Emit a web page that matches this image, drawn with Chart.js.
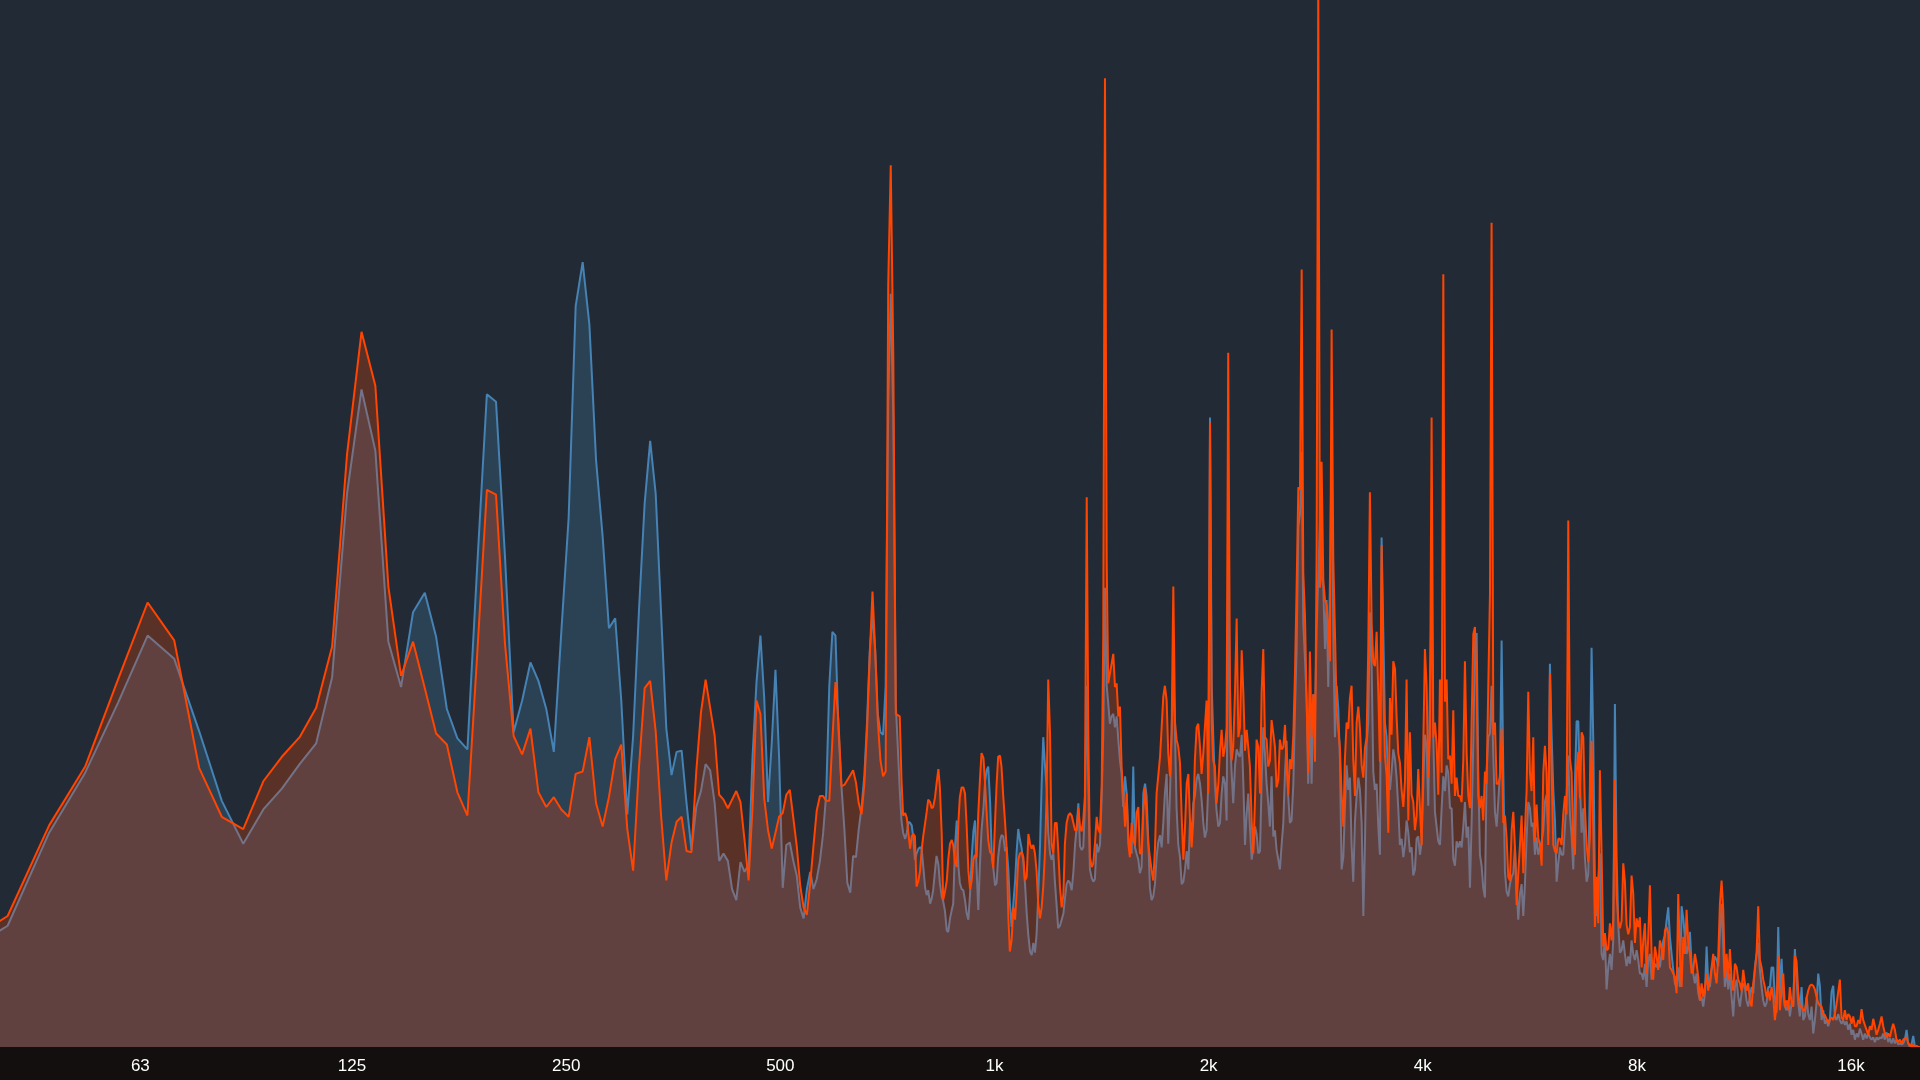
<!DOCTYPE html>
<html><head><meta charset="utf-8">
<script src="https://cdn.jsdelivr.net/npm/chart.js@4.4.1/dist/chart.umd.min.js"></script>
<style>html,body{margin:0;padding:0;background:#130f0f;overflow:hidden}#wrap{width:1920px;height:1080px}</style>
</head><body><div id="wrap"><canvas id="c" width="1920" height="1080"></canvas></div>
<script>
// axis ticks
const tickHz = [63, 125, 250, 500, 1000, 2000, 4000, 8000, 16000];
const tickText = ['63', '125', '250', '500', '1k', '2k', '4k', '8k', '16k'];

// low band: FFT bin centres (Hz)
const lowHz = [
35.2,41.0,46.9,52.7,58.6,64.5,70.3,76.2,82.0,87.9,
93.8,99.6,105.5,111.3,117.2,123.0,128.9,134.8,140.6,146.5,
152.3,158.2,164.1,169.9,175.8,181.6,187.5,193.4,199.2,205.1,
210.9,216.8,222.7,228.5,234.4,240.2,246.1,252.0,257.8,263.7,
269.5,275.4,281.3,287.1,293.0,298.8,304.7,310.5,316.4,322.3,
328.1,334.0,339.8,345.7,351.6,357.4,363.3,369.1,375.0,380.9,
386.7,392.6,398.4,404.3,410.2,416.0,421.9,427.7,433.6,439.5,
445.3,451.2,457.0,462.9,468.8,474.6,480.5,486.3,492.2,498.0,
503.9,509.8,515.6,521.5,527.3,533.2,539.1,544.9,550.8,556.6,
562.5,568.4,574.2,580.1,585.9,591.8,597.7,603.5,609.4,615.2,
621.1,627.0,632.8,638.7,644.5,650.4,656.3,662.1,668.0,673.8,
679.7,685.5,691.4,697.3,703.1,709.0,714.8,720.7,726.6];

// low band levels (dB)
const blueLow = [
-78.0,-75.6,-68.0,-63.1,-57.4,-51.9,-53.8,-59.7,-65.4,-68.9,
-66.1,-64.4,-62.4,-60.7,-55.3,-40.3,-31.8,-36.8,-52.4,-56.1,
-50.0,-48.4,-52.0,-57.9,-60.3,-61.2,-46.1,-32.2,-32.8,-45.5,-59.8,
-57.2,-54.1,-55.6,-57.9,-61.4,-51.6,-42.3,-25.0,-21.4,-26.5,
-37.6,-43.8,-51.3,-50.5,-57.2,-66.5,-60.1,-49.9,-41.1,-36.0,
-40.3,-49.9,-59.5,-63.3,-61.4,-61.3,-65.6,-69.4,-65.9,-64.6,
-62.4,-62.9,-65.6,-70.3,-69.7,-70.3,-72.6,-73.5,-70.4,-71.2,
-70.6,-61.8,-55.7,-51.9,-57.0,-65.5,-60.7,-54.7,-61.8,-72.5,
-69.0,-68.8,-70.3,-71.5,-74.1,-75.0,-72.6,-71.2,-72.6,-71.8,
-70.3,-68.1,-64.8,-56.0,-51.6,-51.9,-59.5,-64.2,-67.7,-72.1,
-72.9,-69.9,-70.0,-67.7,-65.9,-63.3,-58.9,-53.1,-50.2,-53.1,
-58.3,-59.8,-60.0,-56.0,-33.0,-24.0,-34.0,-57.5];
const orangeLow = [
-77.3,-74.8,-67.4,-62.6,-55.5,-49.2,-52.3,-62.7,-66.7,-67.7,
-63.8,-61.8,-60.2,-57.8,-52.8,-37.1,-27.1,-31.5,-47.9,-55.2,
-52.4,-56.2,-59.9,-60.8,-64.7,-66.6,-53.3,-40.0,-40.4,-52.6,-60.1,
-61.6,-59.5,-64.7,-65.9,-65.1,-66.1,-66.7,-63.2,-63.0,-60.2,
-65.6,-67.5,-65.1,-62.0,-60.8,-67.7,-71.1,-62.7,-56.2,-55.6,
-59.7,-66.5,-71.9,-68.8,-67.1,-66.7,-69.5,-69.6,-63.0,-58.2,
-55.5,-57.8,-60.1,-64.9,-65.3,-66.0,-65.3,-64.6,-65.5,-68.6,
-71.9,-65.9,-57.2,-58.3,-65.2,-67.8,-69.3,-68.0,-66.7,-66.4,
-64.9,-64.5,-66.8,-69.1,-72.3,-74.1,-74.7,-72.1,-69.1,-66.2,
-65.0,-65.0,-65.4,-65.4,-60.4,-55.7,-58.9,-64.2,-64.1,-63.7,
-63.3,-62.9,-63.9,-65.6,-66.5,-64.0,-59.5,-53.4,-48.3,-53.1,
-58.9,-62.1,-63.4,-63.0,-23.2,-13.5,-29.0,-58.3];

// high band sample frequencies (Hz)
const highHz = [
736,740,744,749,753,757,761,765,769,773,
777,782,786,790,794,799,803,807,812,816,
820,825,829,834,838,843,847,852,857,861,
866,871,875,880,885,890,894,899,904,909,
914,919,924,929,934,939,944,949,954,959,
965,970,975,980,986,991,996,1002,1007,1012,
1018,1023,1029,1035,1040,1046,1051,1057,1063,1069,
1074,1080,1086,1092,1098,1104,1110,1116,1122,1128,
1134,1140,1146,1152,1159,1165,1171,1178,1184,1190,
1197,1203,1210,1216,1223,1229,1236,1243,1250,1256,
1263,1270,1277,1284,1291,1298,1305,1312,1319,1326,
1333,1340,1348,1355,1362,1370,1377,1384,1392,1399,
1407,1415,1422,1430,1438,1445,1453,1461,1469,1477,
1485,1493,1501,1509,1517,1526,1534,1542,1550,1559,
1567,1576,1584,1593,1601,1610,1619,1628,1636,1645,
1654,1663,1672,1681,1690,1699,1709,1718,1727,1736,
1746,1755,1765,1774,1784,1794,1803,1813,1823,1833,
1843,1853,1863,1873,1883,1893,1903,1913,1924,1934,
1945,1955,1966,1976,1987,1998,2009,2020,2030,2041,
2052,2064,2075,2086,2097,2109,2120,2131,2143,2155,
2166,2178,2190,2202,2214,2226,2238,2250,2262,2274,
2286,2299,2311,2324,2336,2349,2362,2374,2387,2400,
2413,2426,2439,2452,2466,2479,2492,2506,2519,2533,
2547,2561,2574,2588,2602,2616,2631,2645,2659,2674,
2688,2703,2717,2732,2747,2761,2776,2791,2807,2822,
2837,2852,2868,2883,2899,2915,2930,2946,2962,2978,
2994,3010,3027,3043,3059,3076,3093,3109,3126,3143,
3160,3177,3194,3212,3229,3247,3264,3282,3300,3317,
3335,3353,3371,3390,3408,3426,3445,3464,3482,3501,
3520,3539,3558,3578,3597,3616,3636,3656,3675,3695,
3715,3735,3756,3776,3796,3817,3837,3858,3879,3900,
3921,3942,3964,3985,4007,4028,4050,4072,4094,4116,
4139,4161,4183,4206,4229,4252,4275,4298,4321,4344,
4368,4392,4415,4439,4463,4487,4512,4536,4561,4585,
4610,4635,4660,4685,4711,4736,4762,4787,4813,4839,
4865,4892,4918,4945,4972,4998,5026,5053,5080,5107,
5135,5163,5191,5219,5247,5275,5304,5333,5362,5391,
5420,5449,5479,5508,5538,5568,5598,5628,5659,5689,
5720,5751,5782,5813,5845,5877,5908,5940,5972,6005,
6037,6070,6103,6136,6169,6202,6236,6270,6303,6338,
6372,6406,6441,6475,6511,6546,6581,6617,6653,6689,
6725,6761,6798,6834,6871,6908,6946,6983,7021,7059,
7097,7136,7174,7213,7252,7291,7331,7370,7410,7450,
7491,7531,7572,7613,7654,7695,7737,7779,7821,7863,
7906,7949,7992,8035,8078,8122,8166,8210,8254,8299,
8344,8389,8434,8480,8526,8572,8618,8665,8712,8759,
8806,8854,8902,8950,8999,9047,9096,9145,9195,9245,
9295,9345,9395,9446,9497,9549,9600,9652,9704,9757,
9810,9863,9916,9970,10024,10078,10132,10187,10242,10298,
10353,10409,10466,10522,10579,10636,10694,10752,10810,10868,
10927,10986,11045,11105,11165,11225,11286,11347,11408,11470,
11532,11595,11657,11720,11784,11847,11912,11976,12041,12106,
12171,12237,12303,12370,12437,12504,12572,12640,12708,12777,
12846,12915,12985,13055,13126,13197,13268,13340,13412,13485,
13558,13631,13705,13779,13854,13928,14004,14080,14156,14232,
14309,14387,14464,14543,14621,14700,14780,14860,14940,15021,
15102,15184,15266,15349,15432,15515,15599,15683,15768,15854,
15939,16026,16112,16199,16287,16375,16464,16553,16642,16732,
16823,16914,17005,17097,17190,17283,17376,17470,17565,17660,
17755,17851,17948,18045,18142,18241,18339,18438,18538,18638,
18740,18841,18943,19046,19149,19252,19357,19461,19566,19672,
19779,19886,19993];

// high band levels (dB) - blue channel
const blueHigh = [
-64.5,-67.0,-68.0,-68.5,-68.0,-67.1,-67.2,-67.4,-68.4,-70.2,
-69.7,-69.3,-69.2,-69.3,-70.7,-72.5,-73.1,-72.7,-73.8,-73.4,
-72.7,-71.1,-69.9,-70.6,-72.1,-73.2,-73.6,-74.4,-76.0,-76.1,
-75.0,-74.3,-73.8,-69.2,-67.0,-70.8,-72.1,-72.6,-72.7,-73.5,
-74.6,-75.1,-73.0,-70.0,-67.9,-67.0,-71.1,-74.3,-70.6,-67.8,
-66.0,-63.8,-62.9,-62.6,-65.5,-69.7,-70.8,-72.3,-72.1,-70.0,
-68.7,-68.2,-68.3,-69.5,-69.2,-71.0,-73.7,-75.7,-73.8,-72.0,
-69.7,-67.7,-68.6,-69.3,-70.4,-72.2,-74.6,-76.4,-77.7,-78.0,
-77.0,-77.8,-76.3,-73.2,-69.0,-64.0,-60.2,-62.6,-64.3,-68.0,
-69.7,-70.2,-69.7,-72.0,-74.0,-75.8,-75.6,-75.1,-74.6,-73.4,
-72.2,-71.9,-72.1,-72.7,-71.2,-69.0,-67.5,-65.6,-69.1,-69.4,
-69.2,-66.0,-56.0,-64.0,-71.0,-71.7,-72.0,-71.8,-68.9,-69.6,
-69.0,-65.0,-60.0,-48.0,-56.0,-57.4,-59.1,-58.5,-58.3,-59.4,
-58.5,-60.4,-62.1,-63.2,-65.9,-63.4,-64.8,-68.1,-69.4,-69.7,
-62.6,-69.2,-69.7,-70.2,-71.3,-70.8,-64.8,-64.0,-65.0,-68.5,
-72.5,-73.5,-73.2,-72.2,-70.0,-68.8,-68.2,-69.2,-67.2,-64.8,
-63.2,-68.9,-64.8,-60.0,-54.5,-60.0,-66.0,-69.0,-70.0,-72.2,
-72.0,-71.0,-69.5,-71.0,-67.0,-68.3,-65.6,-65.0,-63.6,-63.2,
-64.0,-65.3,-67.2,-68.4,-67.8,-64.0,-34.1,-56.0,-60.0,-64.0,
-66.2,-67.5,-67.2,-64.8,-63.4,-64.0,-67.0,-45.0,-60.0,-63.2,
-65.6,-62.6,-61.2,-61.6,-61.8,-60.0,-64.0,-69.0,-66.4,-64.8,
-67.5,-70.2,-69.2,-67.5,-68.1,-69.7,-69.5,-64.0,-59.4,-61.5,
-64.0,-65.6,-67.5,-63.4,-68.3,-67.8,-69.4,-70.2,
-71.0,-69.0,-67.2,-63.1,-60.5,-65.0,-67.2,-67.0,-64.0,-58.0,
-53.0,-43.0,-42.0,-36.9,-50.9,-53.8,-57.3,-64.0,-57.3,-64.0,
-56.7,-58.7,-51.5,-47.0,-42.5,-47.0,-48.0,-53.0,-49.0,-56.1,
-47.4,-36.3,-51.5,-60.2,-56.0,-57.9,-62.0,-71.0,-70.0,-66.0,
-62.5,-64.5,-63.5,-69.0,-72.0,-67.0,-65.0,-63.5,-64.5,-67.2,
-74.8,-69.0,-60.8,-59.0,-50.0,-54.5,-63.0,-64.5,-64.0,-67.5,
-69.8,-43.9,-51.5,-59.0,-60.2,-64.0,-64.5,-63.0,-61.2,-62.0,
-63.5,-66.0,-69.0,-68.5,-70.0,-69.0,-67.0,-68.0,-69.6,-69.2,
-71.5,-71.0,-68.5,-68.3,-69.8,-68.8,-64.0,-60.0,-61.0,-65.8,
-56.0,-48.8,-60.2,-66.3,-67.5,-68.7,-69.0,-66.0,-63.4,-64.6,
-62.5,-63.1,-66.0,-66.0,-70.1,-70.7,-68.7,-69.2,-68.7,-69.2,
-67.5,-65.5,-68.4,-67.5,-72.5,-67.2,-60.5,-52.5,-51.7,-63.1,
-69.8,-70.7,-72.5,-73.3,-63.1,-60.2,-59.9,-56.0,-61.7,-66.3,
-67.5,-65.5,-63.1,-52.3,-63.0,-71.2,-72.8,-73.2,-72.2,-71.6,
-71.3,-69.2,-72.5,-75.1,-73.0,-72.2,-74.8,-72.2,-68.4,-65.5,
-66.0,-67.5,-67.2,-69.8,-68.4,-69.8,-69.2,-68.7,-67.8,-65.5,
-64.9,-68.0,-54.2,-60.0,-64.5,-67.0,-72.0,-70.5,-69.2,-69.8,
-69.8,-67.5,-65.0,-61.7,-66.5,-68.2,-71.0,-64.0,-58.9,-58.9,
-64.0,-68.0,-66.0,-70.0,-72.0,-71.4,-64.0,-52.9,-60.5,-71.9,
-74.8,-71.9,
-69.7,-77.9,-78.4,-76.5,-80.8,-79.0,-77.9,-79.2,-76.8,-57.5,
-70.0,-75.5,-77.8,-77.6,-76.8,-77.9,-78.9,-78.1,-78.7,-76.8,
-77.9,-78.4,-77.6,-78.4,-79.5,-79.5,-80.0,-78.7,-80.6,-78.4,
-77.9,-80.0,-79.2,-78.7,-79.0,-78.4,-79.0,-77.9,-76.8,-76.4,
-75.2,-74.1,-76.5,-77.9,-79.2,-80.3,-80.6,-79.0,-80.6,-74.0,
-75.0,-76.5,-77.9,-77.3,-76.1,-78.7,-79.5,-80.3,-79.5,-81.1,
-81.7,-81.4,-82.2,-81.1,-77.3,-80.3,-80.6,-79.2,-78.7,-78.1,
-78.4,-78.9,-76.2,-73.8,-77.3,-80.6,-79.2,-80.8,-79.5,-81.4,
-83.0,-80.6,-80.0,-81.4,-82.2,-81.1,-80.3,-80.6,-81.7,-82.2,
-81.4,-80.6,-81.1,-79.0,-77.9,-77.0,-79.2,-80.6,-81.7,-82.2,
-81.9,-80.6,-80.6,-79.0,-79.0,-81.5,-82.7,-75.7,-81.1,-78.3,
-81.2,-82.2,-82.5,-81.7,-83.0,-81.9,-82.2,-77.5,-80.0,-81.9,
-83.0,-80.6,-83.3,-83.0,-81.4,-82.8,-83.3,-82.2,-84.4,-83.3,
-81.9,-79.5,-80.5,-83.3,-82.5,-83.6,-83.3,-83.8,-83.3,-81.0,
-80.5,-83.0,-83.3,-82.8,-83.3,-83.6,-83.3,-83.7,-83.4,-84.1,
-83.6,-84.5,-84.1,-84.9,-84.4,-84.7,-84.0,-84.4,-84.9,-84.4,
-84.8,-84.4,-84.7,-84.9,-84.7,-85.1,-84.7,-84.9,-84.7,-84.8,
-84.4,-84.9,-84.3,-85.1,-84.8,-85.2,-84.8,-85.2,-84.9,-85.3,
-85.2,-85.3,-85.2,-84.9,-84.1,-85.2,-85.5,-85.3,-84.6,-85.5,
-85.5,-85.5,-85.5];

// high band levels (dB) - orange channel
const orangeHigh = [
-58.5,-63.6,-66.6,-66.4,-66.8,-68.1,-69.3,-68.3,-68.1,-68.3,
-72.4,-71.9,-71.1,-69.4,-68.3,-67.2,-66.3,-65.3,-65.5,-66.0,
-65.9,-65.1,-64.0,-62.8,-64.3,-68.1,-73.5,-72.8,-71.9,-70.2,
-68.9,-68.6,-69.0,-70.4,-70.8,-67.0,-65.1,-64.3,-64.3,-64.8,
-67.5,-71.1,-72.6,-71.9,-70.2,-69.8,-70.0,-66.4,-63.7,-61.5,
-61.9,-64.0,-66.4,-68.6,-69.6,-69.7,-70.9,-67.0,-64.0,-61.8,
-61.7,-62.6,-65.1,-67.2,-69.2,-74.9,-77.7,-76.8,-74.1,-75.1,
-73.0,-70.2,-69.7,-69.6,-70.0,-71.9,-71.6,-68.1,-68.9,-69.3,
-69.0,-69.7,-71.1,-73.8,-75.0,-74.1,-72.4,-69.4,-64.8,-55.5,
-59.9,-68.9,-69.7,-67.2,-67.2,-69.3,-72.4,-74.1,-73.0,-68.9,
-67.2,-66.6,-66.4,-66.6,-67.2,-67.8,-67.8,-66.0,-67.5,-67.9,
-67.0,-65.0,-40.6,-60.0,-70.0,-70.8,-70.5,-69.0,-66.7,-67.7,
-68.0,-64.0,-52.0,-6.4,-46.0,-55.8,-55.0,-54.2,-53.4,-56.1,
-55.8,-58.5,-57.7,-62.6,-64.8,-67.5,-64.8,-68.9,-70.0,-67.2,
-68.6,-69.0,-66.4,-65.9,-69.7,-69.7,-66.2,-64.3,-66.4,-68.9,
-70.0,-71.1,-71.9,-69.4,-64.8,-63.4,-61.8,-59.4,-56.9,-56.0,
-57.2,-61.5,-63.4,-60.0,-47.9,-59.0,-60.4,-61.0,-62.3,-66.7,
-70.2,-67.5,-64.0,-63.2,-67.0,-69.2,-67.0,-62.1,-59.4,-59.1,
-61.0,-63.2,-61.5,-59.4,-57.2,-64.8,-34.5,-59.0,-62.1,-62.6,
-65.6,-64.0,-61.3,-59.6,-61.8,-61.0,-59.4,-28.8,-56.0,-62.1,
-61.0,-56.6,-50.5,-60.2,-59.4,-53.1,-56.6,-61.3,-59.6,-61.0,
-62.6,-67.0,-69.7,-65.3,-60.4,-61.0,-64.8,-56.6,-53.0,-60.2,
-60.4,-62.6,-62.1,-58.8,-59.9,-61.0,-64.3,-63.7,
-60.4,-61.2,-61.0,-59.2,-62.5,-64.9,-62.0,-62.8,-60.0,-55.0,
-48.0,-39.8,-40.0,-22.0,-46.8,-50.3,-57.3,-63.1,-53.2,-60.2,
-56.7,-62.2,-45.0,1.0,-48.0,-37.7,-47.4,-49.0,-49.4,-51.0,
-54.0,-26.9,-45.6,-51.5,-58.0,-59.6,-61.0,-64.9,-67.5,-62.0,
-59.0,-59.5,-57.0,-56.0,-62.0,-65.0,-59.0,-57.7,-59.5,-62.5,
-63.5,-61.1,-60.2,-53.0,-40.2,-50.9,-54.1,-54.4,-51.6,-56.7,
-62.2,-44.5,-56.0,-61.7,-63.3,-68.0,-57.0,-60.0,-54.0,-54.6,
-58.5,-61.5,-62.3,-64.5,-65.9,-63.8,-55.5,-67.0,-59.8,-64.9,
-65.5,-67.8,-66.6,-62.8,-66.0,-69.0,-60.8,-53.0,-56.0,-63.5,
-60.0,-34.1,-60.2,-59.0,-60.8,-64.9,-55.5,-63.1,-22.4,-57.3,
-55.5,-62.0,-61.7,-64.0,-58.0,-65.0,-63.5,-65.0,-65.0,-65.5,
-62.0,-54.0,-61.5,-65.0,-66.0,-59.0,-51.8,-51.2,-56.0,-65.0,
-66.0,-65.0,-67.0,-63.0,-64.0,-56.0,-48.5,-18.2,-60.0,-59.0,
-64.0,-64.0,-63.5,-59.5,-67.2,-66.6,-68.4,-71.6,-71.9,-67.8,
-66.3,-69.2,-73.9,-71.3,-69.0,-66.6,-71.3,-67.8,-64.6,-56.5,
-63.1,-64.6,-60.2,-68.7,-65.7,-68.4,-69.0,-70.7,-63.1,-60.9,
-63.1,-69.0,-55.0,-63.0,-69.0,-69.5,-69.7,-68.5,-68.5,-69.0,
-66.5,-65.0,-66.5,-42.5,-62.0,-63.1,-69.0,-69.8,-63.1,-61.4,
-65.2,-59.8,-60.2,-66.0,-69.0,-70.4,-68.4,-60.5,-67.8,-75.7,
-71.6,-75.4,
-62.9,-69.7,-77.3,-76.2,-77.6,-77.5,-75.4,-76.8,-75.1,-63.7,
-73.0,-75.2,-75.8,-75.2,-70.5,-72.0,-75.5,-76.3,-75.7,-71.5,
-73.0,-77.0,-75.0,-75.7,-74.9,-79.0,-76.8,-75.4,-79.5,-76.5,
-72.3,-77.9,-80.0,-77.3,-78.1,-79.2,-76.8,-77.3,-78.4,-76.0,
-75.7,-76.2,-79.0,-79.2,-79.5,-79.8,-81.1,-73.0,-77.9,-80.6,
-76.5,-77.9,-74.3,-77.0,-77.9,-79.5,-79.2,-77.9,-78.7,-79.8,
-81.7,-80.3,-81.4,-80.6,-79.5,-80.9,-80.0,-79.0,-77.9,-79.5,
-80.3,-78.1,-73.8,-71.9,-74.3,-79.8,-77.9,-80.0,-77.5,-80.0,
-80.9,-78.7,-79.0,-80.0,-80.3,-80.9,-79.2,-80.3,-80.9,-80.3,
-81.7,-82.2,-80.3,-79.2,-77.9,-74.0,-78.4,-79.0,-80.0,-80.6,
-81.4,-80.9,-81.7,-80.6,-81.4,-83.3,-82.2,-78.1,-82.5,-80.9,
-79.5,-82.2,-81.7,-82.5,-80.6,-81.9,-82.2,-78.0,-78.5,-81.0,
-82.2,-82.2,-82.5,-82.5,-81.5,-80.9,-80.5,-80.4,-80.5,-80.8,
-81.4,-81.9,-82.1,-82.2,-82.8,-82.9,-83.2,-83.5,-83.2,-83.1,
-83.3,-82.8,-82.0,-81.0,-80.0,-83.1,-83.3,-82.5,-83.3,-82.8,
-83.0,-83.6,-83.0,-83.8,-83.8,-83.3,-83.6,-82.4,-83.3,-83.7,
-84.1,-84.5,-83.8,-84.1,-83.2,-83.8,-84.5,-84.1,-83.6,-83.0,
-83.8,-84.4,-84.7,-84.4,-84.7,-84.1,-83.6,-84.1,-84.9,-85.1,
-84.9,-85.2,-84.9,-84.8,-84.7,-85.2,-85.3,-85.5,-85.3,-85.5,
-85.4,-85.5,-85.5];

const PLOT_BG = '#222b35';
const BAR_BG = '#130f0f';

const hz = lowHz.concat(highHz);
const toPoints = (levels) => levels.map((y, i) => ({ x: hz[i], y }));
const bluePts = toPoints(blueLow.concat(blueHigh));
const orangePts = toPoints(orangeLow.concat(orangeHigh));

const bgPlugin = {
  id: 'bg',
  beforeDraw(chart) {
    const { ctx, chartArea: a, width, height } = chart;
    ctx.save();
    ctx.fillStyle = BAR_BG;
    ctx.fillRect(0, 0, width, height);
    ctx.fillStyle = PLOT_BG;
    ctx.fillRect(a.left, a.top, a.right - a.left, a.bottom - a.top);
    ctx.restore();
  }
};

new Chart(document.getElementById('c'), {
  type: 'line',
  data: {
    datasets: [
      {
        label: 'Right', data: orangePts, order: 0,
        borderColor: 'rgb(255,69,0)', backgroundColor: 'rgba(255,69,0,0.25)',
        borderWidth: 2, borderJoinStyle: 'bevel', fill: 'start', pointRadius: 0, tension: 0
      },
      {
        label: 'Left', data: bluePts, order: 1,
        borderColor: 'rgb(70,130,180)', backgroundColor: 'rgba(70,130,180,0.25)',
        borderWidth: 2, borderJoinStyle: 'bevel', fill: 'start', pointRadius: 0, tension: 0
      }
    ]
  },
  options: {
    responsive: false,
    devicePixelRatio: 1,
    animation: false,
    parsing: false,
    normalized: true,
    layout: { padding: 0 },
    plugins: { legend: { display: false }, tooltip: { enabled: false } },
    scales: {
      x: {
        type: 'logarithmic', min: 40, max: 20000, position: 'bottom',
        grid: { display: false, drawTicks: false },
        border: { display: false },
        ticks: {
          color: '#ffffff', padding: 9, autoSkip: false, maxRotation: 0, minRotation: 0,
          font: { family: '"Liberation Sans", Arial, sans-serif', size: 17 },
          callback: (v, i) => tickText[i]
        },
        afterBuildTicks: (s) => { s.ticks = tickHz.map(v => ({ value: v })); },
        afterFit: (s) => { s.height = 33; }
      },
      y: { min: -85.5, max: 0, display: false }
    }
  },
  plugins: [bgPlugin]
});
</script></body></html>
